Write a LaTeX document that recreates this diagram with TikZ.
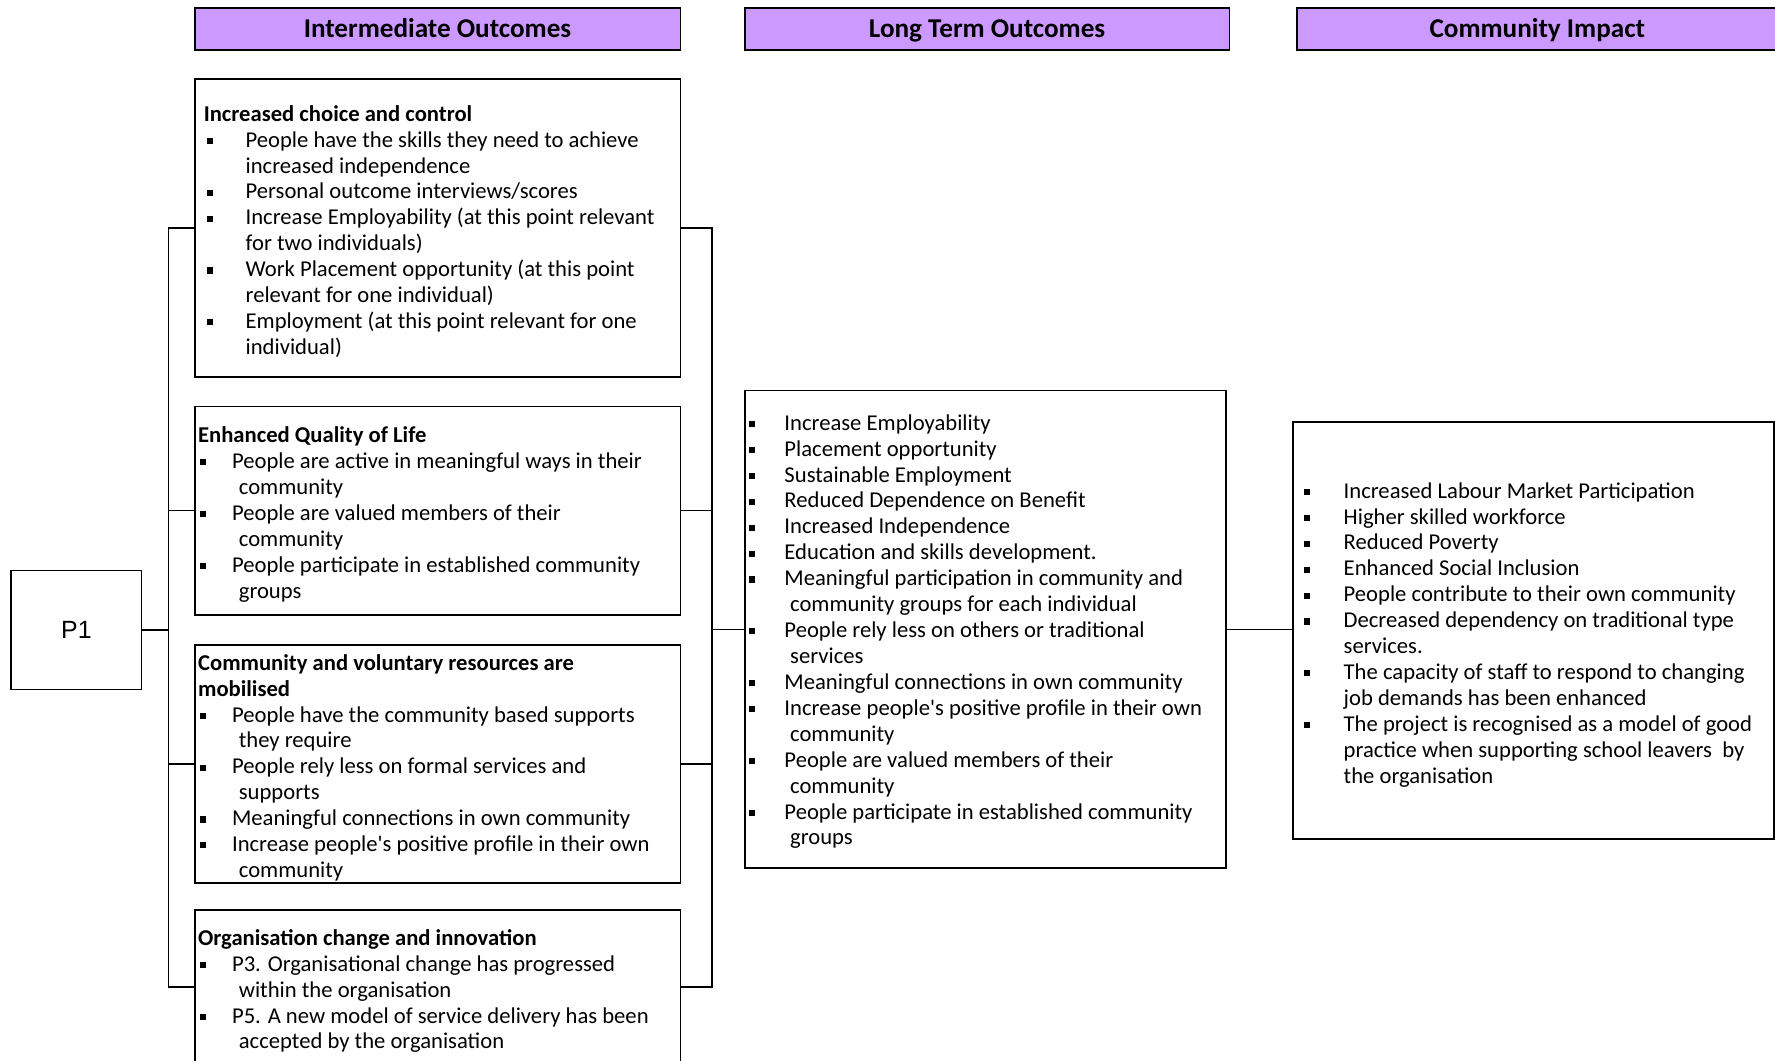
\documentclass[tikz,border=0pt]{standalone}
\usepackage{fontspec}
\setmainfont{Carlito}
\newfontfamily\arialfont{Liberation Sans}
\definecolor{headfill}{HTML}{CC99FF}

% offsets used by the bullet-list macros
\newlength\buloff
\newlength\txtoff
\newlength\cntoff
\newcommand\itm[1]{\strut\makebox[\txtoff][l]{\hspace*{\buloff}\rule[1.4pt]{2.7pt}{2.7pt}}#1}
\newcommand\cnt[1]{\strut\hspace*{\cntoff}#1}
\newcommand\ttl[1]{\strut\textbf{#1}}

\begin{document}
\begin{tikzpicture}[x=0.5pt,y=-0.5pt,
  frame/.style={draw=black, line width=0.75pt, inner sep=0pt, outer sep=0pt, anchor=north west},
  header/.style={frame, fill=headfill, font=\fontsize{12}{14}\selectfont\bfseries,
    text height=9.6pt, text depth=1.6pt},
  body/.style={anchor=north west, inner sep=0pt, outer sep=0pt, align=left,
    font=\fontsize{10}{11.45}\selectfont},
  lista/.style={body, execute at begin node={\setlength\buloff{1.3pt}\setlength\txtoff{18.5pt}\setlength\cntoff{18.5pt}}},
  listb/.style={body, execute at begin node={\setlength\buloff{0.8pt}\setlength\txtoff{15pt}\setlength\cntoff{18pt}}},
  listm/.style={body, execute at begin node={\setlength\buloff{1.8pt}\setlength\txtoff{17.5pt}\setlength\cntoff{20pt}}},
  listr/.style={body, execute at begin node={\setlength\buloff{4.8pt}\setlength\txtoff{22.5pt}\setlength\cntoff{22.5pt}}},
  conn/.style={draw=black, line width=0.7pt},
]
\useasboundingbox (0,0) rectangle (1568,937);

% column headers
\node[header, minimum width=214.5pt, minimum height=18.5pt] (H1) at (172,7) {Intermediate Outcomes};
\node[header, minimum width=214pt, minimum height=18.5pt] (H2) at (658,7) {Long Term Outcomes};
\node[header, minimum width=212pt, minimum height=18.5pt] (H3) at (1146,7) {Community Impact};

% programme box
\node[frame, minimum width=57.5pt, minimum height=52.5pt,
  font=\arialfont\fontsize{11}{12}\selectfont] (P1) at (10,504) {P1};

% intermediate outcome boxes
\node[frame, minimum width=214.5pt, minimum height=131.5pt] (A) at (172,70) {};
\node[frame, minimum width=214.5pt, minimum height=92pt] (B) at (172,359) {};
\node[frame, minimum width=214.5pt, minimum height=105pt] (C) at (172,570) {};
\node[frame, minimum width=214.5pt, minimum height=68pt] (D) at (172,804) {};

% long term and impact boxes
\node[frame, minimum width=212.5pt, minimum height=211pt] (M) at (658,345) {};
\node[frame, minimum width=212.5pt, minimum height=184pt] (R) at (1142,373) {};

% box texts
\node[lista] (tA) at (180,91) {%
\ttl{Increased choice and control}\\
\itm{People have the skills they need to achieve}\\
\cnt{increased independence}\\
\itm{Personal outcome interviews/scores}\\
\itm{Increase Employability (at this point relevant}\\
\cnt{for two individuals)}\\
\itm{Work Placement opportunity (at this point}\\
\cnt{relevant for one individual)}\\
\itm{Employment (at this point relevant for one}\\
\cnt{individual)}};

\node[listb] (tB) at (175,375) {%
\ttl{Enhanced Quality of Life}\\
\itm{People are active in meaningful ways in their}\\
\cnt{community}\\
\itm{People are valued members of their}\\
\cnt{community}\\
\itm{People participate in established community}\\
\cnt{groups}};

\node[listb] (tC) at (175,576) {%
\ttl{Community and voluntary resources are}\\
\ttl{mobilised}\\
\itm{People have the community based supports}\\
\cnt{they require}\\
\itm{People rely less on formal services and}\\
\cnt{supports}\\
\itm{Meaningful connections in own community}\\
\itm{Increase people\textquotesingle s positive profile in their own}\\
\cnt{community}};

\node[listb] (tD) at (175,819) {%
\ttl{Organisation change and innovation}\\
\itm{P3. Organisational change has progressed}\\
\cnt{within the organisation}\\
\itm{P5. A new model of service delivery has been}\\
\cnt{accepted by the organisation}};

\node[listm] (tM) at (658,364) {%
\itm{Increase Employability}\\
\itm{Placement opportunity}\\
\itm{Sustainable Employment}\\
\itm{Reduced Dependence on Benefit}\\
\itm{Increased Independence}\\
\itm{Education and skills development.}\\
\itm{Meaningful participation in community and}\\
\cnt{community groups for each individual}\\
\itm{People rely less on others or traditional}\\
\cnt{services}\\
\itm{Meaningful connections in own community}\\
\itm{Increase people\textquotesingle s positive profile in their own}\\
\cnt{community}\\
\itm{People are valued members of their}\\
\cnt{community}\\
\itm{People participate in established community}\\
\cnt{groups}};

\node[listr] (tR) at (1142,424) {%
\itm{Increased Labour Market Participation}\\
\itm{Higher skilled workforce}\\
\itm{Reduced Poverty}\\
\itm{Enhanced Social Inclusion}\\
\itm{People contribute to their own community}\\
\itm{Decreased dependency on traditional type}\\
\cnt{services.}\\
\itm{The capacity of staff to respond to changing}\\
\cnt{job demands has been enhanced}\\
\itm{The project is recognised as a model of good}\\
\cnt{practice when supporting school leavers\ \ by}\\
\cnt{the organisation}};

% left bracket: P1 to the intermediate outcomes
\coordinate (lb) at (149,0);
\draw[conn] (A.west) -- (A.west -| lb) -- (D.west -| lb) -- (D.west);
\draw[conn] (B.west) -- (B.west -| lb);
\draw[conn] (C.west) -- (C.west -| lb);
\draw[conn] (P1.east) -- (P1.east -| lb);

% right bracket: intermediate outcomes to long term outcomes
\coordinate (rb) at (629,0);
\draw[conn] (A.east) -- (A.east -| rb) -- (D.east -| rb) -- (D.east);
\draw[conn] (B.east) -- (B.east -| rb);
\draw[conn] (C.east) -- (C.east -| rb);
\draw[conn] (M.west) -- (M.west -| rb);

% long term outcomes to community impact
\draw[conn] (M.east) -- (M.east -| R.west);
\end{tikzpicture}
\end{document}
